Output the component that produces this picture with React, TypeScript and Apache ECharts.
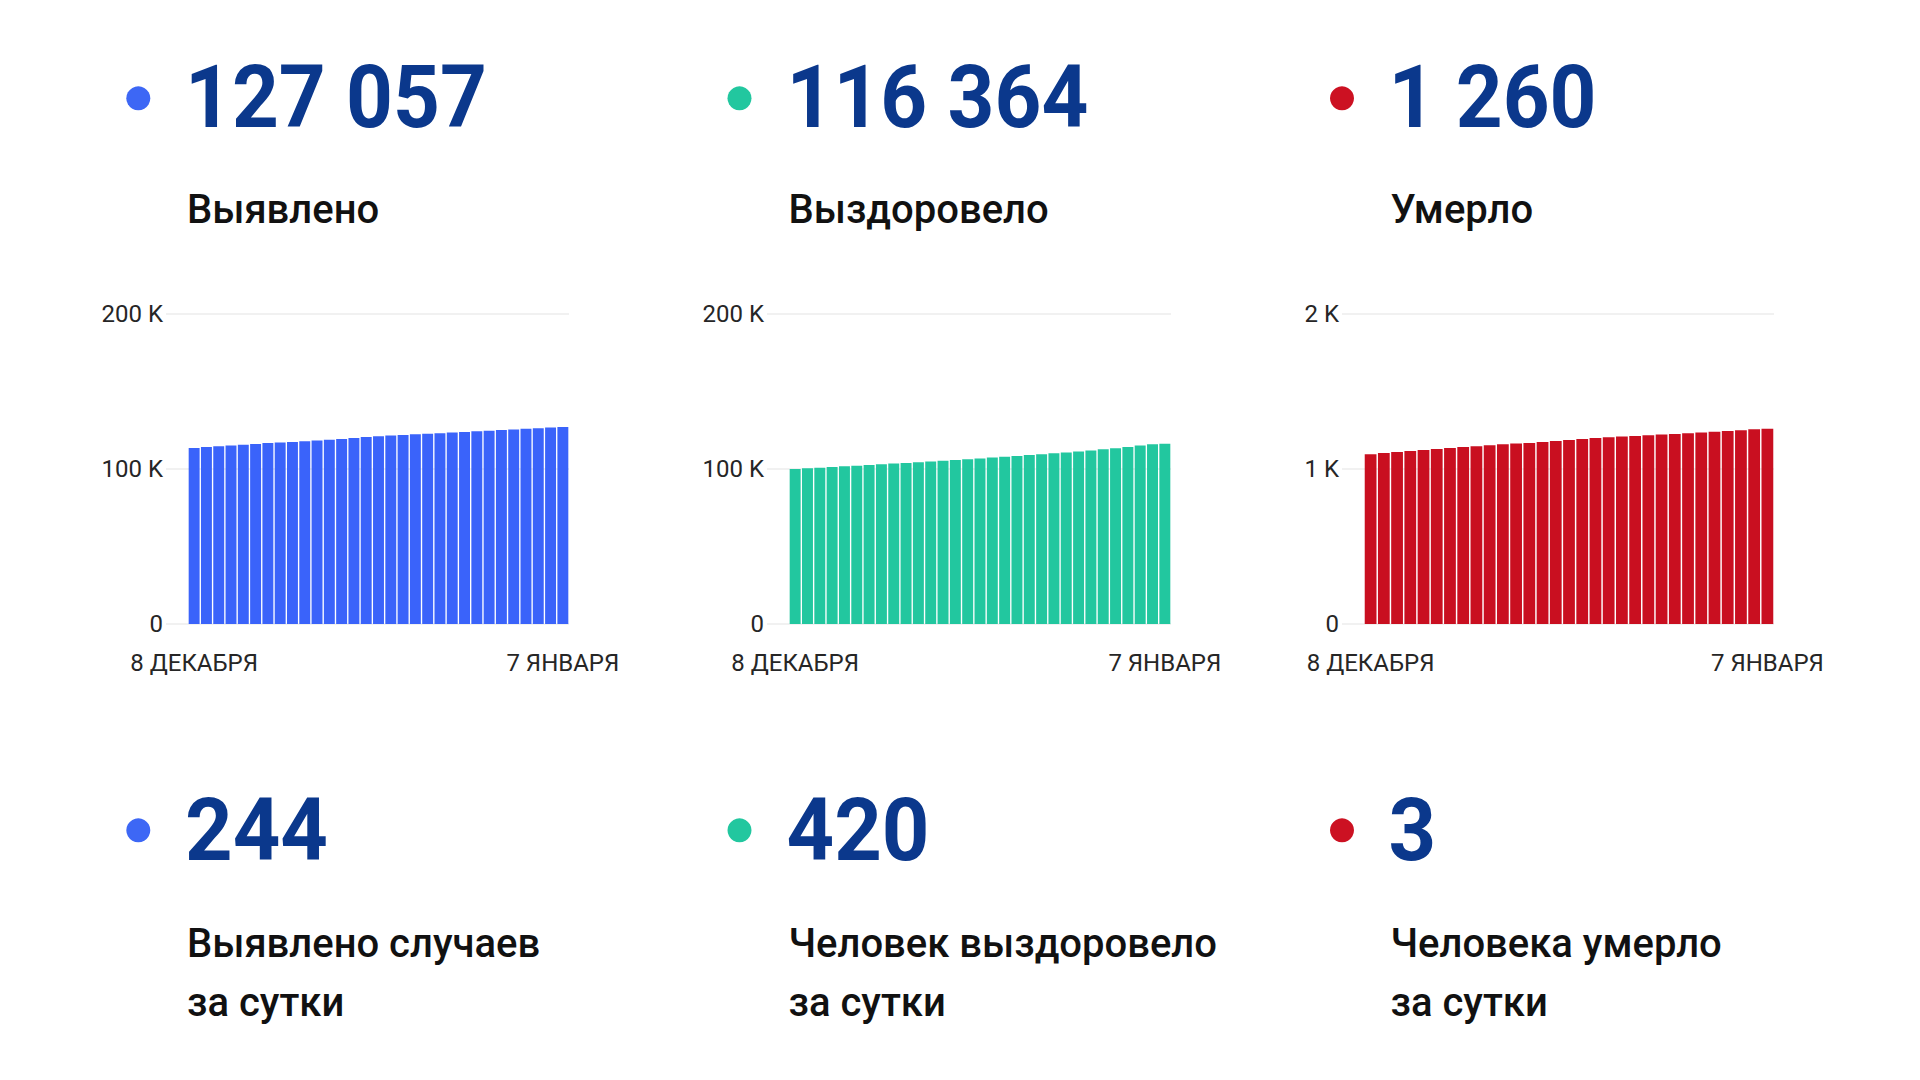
import React, { useEffect, useRef } from "react";
import * as echarts from "echarts";

const categories = [
  "8 ДЕКАБРЯ", "9 ДЕКАБРЯ", "10 ДЕКАБРЯ", "11 ДЕКАБРЯ", "12 ДЕКАБРЯ", "13 ДЕКАБРЯ",
  "14 ДЕКАБРЯ", "15 ДЕКАБРЯ", "16 ДЕКАБРЯ", "17 ДЕКАБРЯ", "18 ДЕКАБРЯ", "19 ДЕКАБРЯ",
  "20 ДЕКАБРЯ", "21 ДЕКАБРЯ", "22 ДЕКАБРЯ", "23 ДЕКАБРЯ", "24 ДЕКАБРЯ", "25 ДЕКАБРЯ",
  "26 ДЕКАБРЯ", "27 ДЕКАБРЯ", "28 ДЕКАБРЯ", "29 ДЕКАБРЯ", "30 ДЕКАБРЯ", "31 ДЕКАБРЯ",
  "1 ЯНВАРЯ", "2 ЯНВАРЯ", "3 ЯНВАРЯ", "4 ЯНВАРЯ", "5 ЯНВАРЯ", "6 ЯНВАРЯ", "7 ЯНВАРЯ",
];

const detectedTotals = [
  113600, 114150, 114650, 115200, 115650, 116150, 116700, 117050, 117500, 117900,
  118450, 118950, 119400, 119950, 120600, 121050, 121550, 121950, 122350, 122750,
  123100, 123500, 123900, 124300, 124700, 125100, 125500, 125900, 126300, 126813, 127057,
];

const recoveredTotals = [
  100000, 100420, 100850, 101280, 101720, 102160, 102600, 103040, 103480, 103920,
  104370, 104840, 105320, 105810, 106310, 106820, 107340, 107870, 108410, 108960,
  109520, 110100, 110700, 111320, 111960, 112700, 113450, 114250, 115100, 115944, 116364,
];

const deathsTotals = [
  1095, 1103, 1110, 1116, 1123, 1129, 1136, 1142, 1147, 1153,
  1159, 1164, 1168, 1175, 1181, 1187, 1194, 1200, 1205, 1209,
  1213, 1218, 1222, 1226, 1231, 1235, 1240, 1245, 1250, 1257, 1260,
];

const headlineValues = ["127 057", "116 364", "1 260"];
const headlineLabels = ["Выявлено", "Выздоровело", "Умерло"];
const dailyValues = ["244", "420", "3"];
const dailyLabels = [
  "Выявлено случаев\nза сутки",
  "Человек выздоровело\nза сутки",
  "Человека умерло\nза сутки",
];
const yMaxes = [200000, 200000, 2000];
const ySteps = [100000, 100000, 1000];

const seriesData = [detectedTotals, recoveredTotals, deathsTotals];
const dotColors = ["#3d67f5", "#22c79f", "#cc1122"];
const barColors = ["#3a63fa", "#22c79f", "#c90f20"];
const numberColor = "#0b388c";
const labelColor = "#111111";
const axisTextColor = "#262626";
const gridColor = "#ececec";
const FONT = "Roboto";

const gridBoxes = [
  { left: 188, width: 381 },
  { left: 789, width: 382 },
  { left: 1364, width: 410 },
];
const colDotX = [138.3, 739.5, 1342];
const colTextX = [185, 786.5, 1388.5];

export default function App() {
  const ref = useRef<HTMLDivElement | null>(null);

  useEffect(() => {
    if (!ref.current) return;
    const chart = echarts.init(ref.current, null, { renderer: "svg" });
    const last = categories.length - 1;

    const grids = gridBoxes.map((g) => ({
      left: g.left,
      width: g.width,
      top: 314,
      height: 310,
    }));

    const xAxes = gridBoxes.map((_, i) => ({
      type: "category",
      gridIndex: i,
      data: categories,
      axisLine: { show: false },
      axisTick: { show: false },
      axisLabel: {
        interval: (idx: number) => idx === 0 || idx === last,
        margin: 27,
        fontSize: 24,
        fontFamily: FONT,
        color: axisTextColor,
      },
    }));

    const yAxes = gridBoxes.map((_, i) => ({
      type: "value",
      gridIndex: i,
      min: 0,
      max: yMaxes[i],
      interval: ySteps[i],
      axisLine: { show: false },
      axisTick: { show: true, length: 22, lineStyle: { color: gridColor, width: 1.5 } },
      splitLine: { show: true, lineStyle: { color: gridColor, width: 1.5 } },
      axisLabel: {
        margin: 25,
        fontSize: 24,
        fontFamily: FONT,
        color: axisTextColor,
        formatter: (v: number) => (v === 0 ? "0" : `${v / 1000} K`),
      },
    }));

    const series = seriesData.map((d, i) => ({
      type: "bar",
      xAxisIndex: i,
      yAxisIndex: i,
      data: d,
      barCategoryGap: "11%",
      itemStyle: { color: barColors[i] },
    }));

    const graphic: any[] = [];
    for (let i = 0; i < 3; i++) {
      graphic.push({
        type: "circle",
        shape: { cx: colDotX[i], cy: 98.3, r: 12 },
        style: { fill: dotColors[i] },
      });
      graphic.push({
        type: "text",
        x: colTextX[i],
        y: 97.5,
        scaleX: 0.94,
        style: {
          text: headlineValues[i],
          fontFamily: FONT,
          fontWeight: 700,
          fontSize: 87,
          fill: numberColor,
          align: "left",
          verticalAlign: "middle",
        },
      });
      graphic.push({
        type: "text",
        x: colTextX[i] + 2,
        y: 209,
        style: {
          text: headlineLabels[i],
          fontFamily: FONT,
          fontWeight: 500,
          fontSize: 40,
          fill: labelColor,
          align: "left",
          verticalAlign: "middle",
        },
      });
      graphic.push({
        type: "circle",
        shape: { cx: colDotX[i], cy: 830.3, r: 12 },
        style: { fill: dotColors[i] },
      });
      graphic.push({
        type: "text",
        x: colTextX[i],
        y: 830,
        scaleX: 0.955,
        style: {
          text: dailyValues[i],
          fontFamily: FONT,
          fontWeight: 700,
          fontSize: 87,
          fill: numberColor,
          align: "left",
          verticalAlign: "middle",
        },
      });
      graphic.push({
        type: "text",
        x: colTextX[i] + 2,
        y: 972.5,
        style: {
          text: dailyLabels[i],
          fontFamily: FONT,
          fontWeight: 500,
          fontSize: 40,
          lineHeight: 59,
          fill: labelColor,
          align: "left",
          verticalAlign: "middle",
        },
      });
    }

    chart.setOption({
      animation: false,
      backgroundColor: "#ffffff",
      grid: grids,
      xAxis: xAxes,
      yAxis: yAxes,
      series,
      graphic,
    });

    return () => chart.dispose();
  }, []);

  return (
    <div
      ref={ref}
      style={{
        position: "absolute",
        left: 0,
        top: 0,
        width: 1920,
        height: 1080,
        background: "#ffffff",
      }}
    />
  );
}
